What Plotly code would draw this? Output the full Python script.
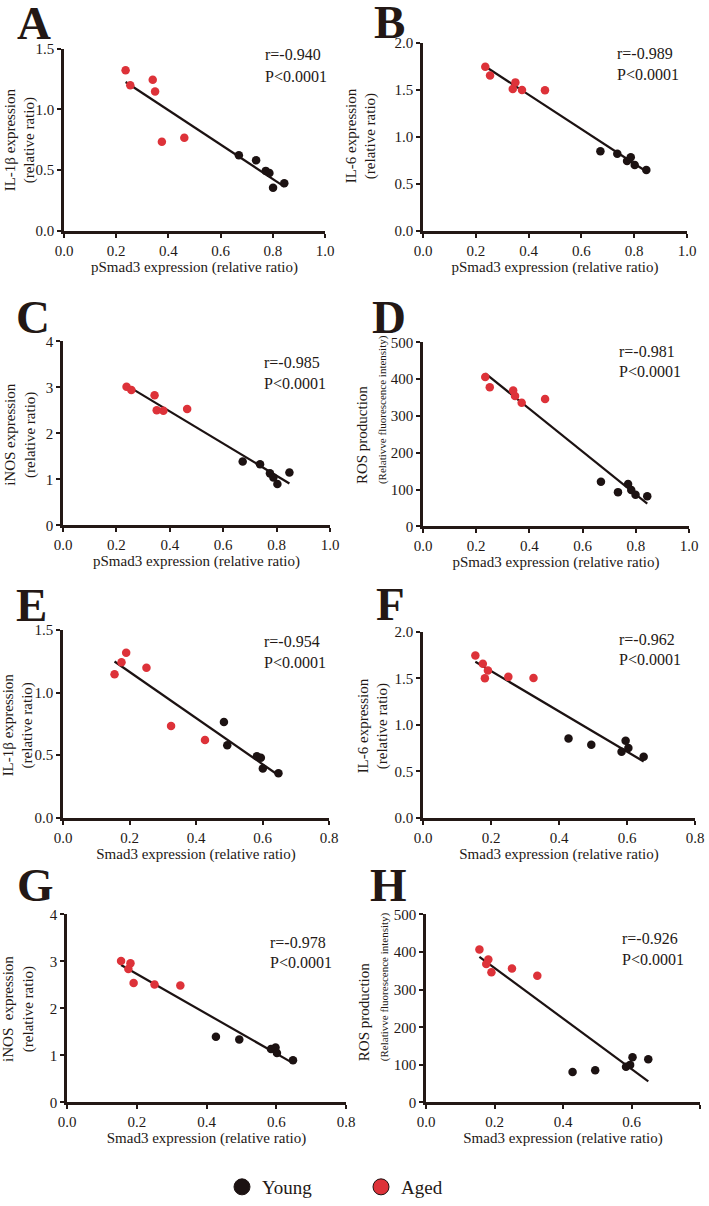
import numpy as np
import plotly.graph_objects as go

W, H = 709, 1206
RED = "#dd3239"
BLK = "#1c1212"
AX = "#231815"
FONT = "Liberation Serif"

# ---------------- data ----------------
panel_labels = ["A", "B", "C", "D", "E", "F", "G", "H"]
r_texts = ["r=-0.940", "r=-0.989", "r=-0.985", "r=-0.981",
           "r=-0.954", "r=-0.962", "r=-0.978", "r=-0.926"]
p_text = "P<0.0001"

x_titles = ["pSmad3 expression (relative ratio)"] * 4 + ["Smad3 expression (relative ratio)"] * 4
ros_title = "ROS production<br><span style='font-size:11px'>(Relativve fluorescence intensity)</span>"
y_titles = ["IL-1β expression<br>(relative ratio)",
            "IL-6 expression<br>(relative ratio)",
            "iNOS expression<br>(relative ratio)",
            ros_title,
            "IL-1β expression<br>(relative ratio)",
            "IL-6 expression<br>(relative ratio)",
            "iNOS  expression<br>(relative ratio)",
            ros_title]

x_ranges = [[0, 1.0]] * 4 + [[0, 0.8]] * 4
y_ranges = [[0, 1.5], [0, 2.0], [0, 4], [0, 500], [0, 1.5], [0, 2.0], [0, 4], [0, 500]]
y_dticks = [0.5, 0.5, 1, 100, 0.5, 0.5, 1, 100]
y_formats = [".1f", ".1f", "d", "d", ".1f", ".1f", "d", "d"]

A_x_aged = [0.236, 0.254, 0.340, 0.349, 0.375, 0.461]
A_y_aged = [1.323, 1.200, 1.244, 1.148, 0.734, 0.766]
A_x_young = [0.670, 0.736, 0.773, 0.787, 0.801, 0.844]
A_y_young = [0.622, 0.581, 0.494, 0.477, 0.355, 0.393]

B_x_aged = [0.236, 0.254, 0.340, 0.350, 0.375, 0.462]
B_y_aged = [1.745, 1.653, 1.508, 1.579, 1.497, 1.494]
B_x_young = [0.672, 0.736, 0.773, 0.787, 0.802, 0.846]
B_y_young = [0.846, 0.821, 0.743, 0.782, 0.701, 0.648]

C_x_aged = [0.238, 0.256, 0.343, 0.351, 0.376, 0.465]
C_y_aged = [3.01, 2.94, 2.83, 2.50, 2.49, 2.53]
C_x_young = [0.673, 0.738, 0.775, 0.788, 0.803, 0.848]
C_y_young = [1.39, 1.33, 1.13, 1.04, 0.90, 1.15]

D_x_aged = [0.234, 0.251, 0.339, 0.346, 0.371, 0.459]
D_y_aged = [406, 378, 369, 354, 336, 346]
D_x_young = [0.669, 0.733, 0.771, 0.783, 0.799, 0.843]
D_y_young = [121, 93, 115, 99, 86, 82]

E_x_aged = [0.155, 0.176, 0.190, 0.251, 0.325, 0.427]
E_y_aged = [1.146, 1.241, 1.317, 1.198, 0.733, 0.622]
E_x_young = [0.484, 0.494, 0.583, 0.595, 0.601, 0.648]
E_y_young = [0.765, 0.579, 0.492, 0.479, 0.394, 0.357]

F_x_aged = [0.154, 0.176, 0.182, 0.191, 0.251, 0.325]
F_y_aged = [1.747, 1.658, 1.502, 1.584, 1.516, 1.505]
F_x_young = [0.428, 0.495, 0.584, 0.596, 0.604, 0.649]
F_y_young = [0.854, 0.786, 0.712, 0.829, 0.751, 0.658]

G_x_aged = [0.155, 0.176, 0.182, 0.191, 0.251, 0.325]
G_y_aged = [3.01, 2.84, 2.96, 2.54, 2.51, 2.49]
G_x_young = [0.427, 0.494, 0.585, 0.598, 0.602, 0.648]
G_y_young = [1.40, 1.34, 1.14, 1.17, 1.05, 0.90]

H_x_aged = [0.156, 0.176, 0.182, 0.191, 0.251, 0.325]
H_y_aged = [407, 368, 380, 346, 356, 337]
H_x_young = [0.428, 0.494, 0.584, 0.596, 0.603, 0.649]
H_y_young = [81, 86, 95, 100, 120, 115]

panels_data = [
    (A_x_aged, A_y_aged, A_x_young, A_y_young),
    (B_x_aged, B_y_aged, B_x_young, B_y_young),
    (C_x_aged, C_y_aged, C_x_young, C_y_young),
    (D_x_aged, D_y_aged, D_x_young, D_y_young),
    (E_x_aged, E_y_aged, E_x_young, E_y_young),
    (F_x_aged, F_y_aged, F_x_young, F_y_young),
    (G_x_aged, G_y_aged, G_x_young, G_y_young),
    (H_x_aged, H_y_aged, H_x_young, H_y_young),
]

# ---------------- layout geometry (pixels) ----------------
# plot boxes: x0, x1, ytop, ybottom
boxes = [(64, 325, 49, 232), (423, 687, 43, 232),
         (63, 330, 343, 528), (423, 689, 344, 529),
         (63, 329, 633, 822), (423, 695, 635, 822),
         (67, 346, 919, 1108), (426, 700, 919, 1108)]
letter_pos = [(34, 23), (389, 22), (33, 319), (389, 319),
              (31, 608), (390, 607), (35, 889), (388, 889)]
rtext_pos = [(263, 55, 77), (615, 54, 75), (262, 364, 385), (617, 353, 373),
             (262, 645, 666), (617, 643, 663), (268, 947, 967), (620, 943, 964)]
# y-title: x center, y position, anchor, align
ytitle_pos = [(20, 141, "middle", "center"), (361, 137, "middle", "center"),
              (21, 437, "middle", "center"), (372, 489, "bottom", "left"),
              (18, 729, "middle", "center"), (373, 729, "middle", "center"),
              (19, 1014, "middle", "center"), (374, 1068, "bottom", "left")]

fig = go.Figure()
layout = dict(template="none", width=W, height=H, margin=dict(l=0, r=0, t=0, b=0),
              paper_bgcolor="white", plot_bgcolor="white",
              font=dict(family=FONT, color=AX, size=15),
              showlegend=True)
annotations = []

for i, (xa, ya, xy, yy) in enumerate(panels_data):
    k = "" if i == 0 else str(i + 1)
    xref, yref = "x" + k, "y" + k
    x0, x1, yt, yb = boxes[i]
    # regression line over all points
    allx = np.array(xa + xy)
    ally = np.array(ya + yy)
    slope, icpt = np.polyfit(allx, ally, 1)
    lx = np.array([allx.min(), allx.max()])
    fig.add_trace(go.Scatter(x=lx, y=slope * lx + icpt, mode="lines",
                             line=dict(color=BLK, width=2.2), showlegend=False,
                             xaxis=xref, yaxis=yref, hoverinfo="skip"))
    fig.add_trace(go.Scatter(x=xa, y=ya, mode="markers",
                             marker=dict(color=RED, size=8.5, line=dict(width=0)), showlegend=False,
                             xaxis=xref, yaxis=yref))
    fig.add_trace(go.Scatter(x=xy, y=yy, mode="markers",
                             marker=dict(color=BLK, size=8.5, line=dict(width=0)), showlegend=False,
                             xaxis=xref, yaxis=yref))
    axcommon = dict(showgrid=False, zeroline=False, showline=True, linecolor=AX,
                    linewidth=2.5, ticks="outside", ticklen=4, tickwidth=1.5,
                    tickcolor=AX, automargin=False,
                    tickfont=dict(family=FONT, size=15, color=AX))
    layout["xaxis" + k] = dict(axcommon, domain=[x0 / W, x1 / W], anchor=yref,
                               range=x_ranges[i], dtick=0.2, tick0=0, tickformat=".1f",
                               title=dict(text=x_titles[i], standoff=0,
                                          font=dict(family=FONT, size=15, color=AX)))
    layout["yaxis" + k] = dict(axcommon, domain=[1 - yb / H, 1 - yt / H], anchor=xref,
                               range=y_ranges[i], dtick=y_dticks[i], tick0=0,
                               tickformat=y_formats[i])
    tx, ty, yanc, aln = ytitle_pos[i]
    annotations.append(dict(text=y_titles[i], x=tx / W, y=1 - ty / H, xref="paper", yref="paper",
                            showarrow=False, textangle=-90, xanchor="center", yanchor=yanc,
                            align=aln, font=dict(family=FONT, size=15, color=AX)))
    lx_, ly_ = letter_pos[i]
    annotations.append(dict(text="<b>" + panel_labels[i] + "</b>", x=lx_ / W, y=1 - ly_ / H,
                            xref="paper", yref="paper", showarrow=False,
                            xanchor="center", yanchor="middle",
                            font=dict(family=FONT, size=47, color=AX)))
    rx, ry, py = rtext_pos[i]
    annotations.append(dict(text=r_texts[i], x=rx / W, y=1 - ry / H, xref="paper", yref="paper",
                            showarrow=False, xanchor="left", yanchor="middle",
                            font=dict(family=FONT, size=16, color=AX)))
    annotations.append(dict(text=p_text, x=rx / W, y=1 - py / H, xref="paper", yref="paper",
                            showarrow=False, xanchor="left", yanchor="middle",
                            font=dict(family=FONT, size=16, color=AX)))

# legend entries
fig.add_trace(go.Scatter(x=[None], y=[None], mode="markers", name="Young",
                         marker=dict(color=BLK, size=18, line=dict(color=BLK, width=1))))
fig.add_trace(go.Scatter(x=[None], y=[None], mode="markers", name="Aged",
                         marker=dict(color=RED, size=18, line=dict(color=BLK, width=1))))

layout["annotations"] = annotations
layout["legend"] = dict(orientation="h", x=222 / W, y=1 - 1193 / H, xanchor="left",
                        yanchor="middle", entrywidth=94, entrywidthmode="pixels",
                        font=dict(family=FONT, size=19, color=AX),
                        bgcolor="rgba(0,0,0,0)")
fig.update_layout(**layout)
fig.write_html("out.html", config={"displayModeBar": False},
               post_script="document.body.style.margin='0';document.body.style.padding='0';")
